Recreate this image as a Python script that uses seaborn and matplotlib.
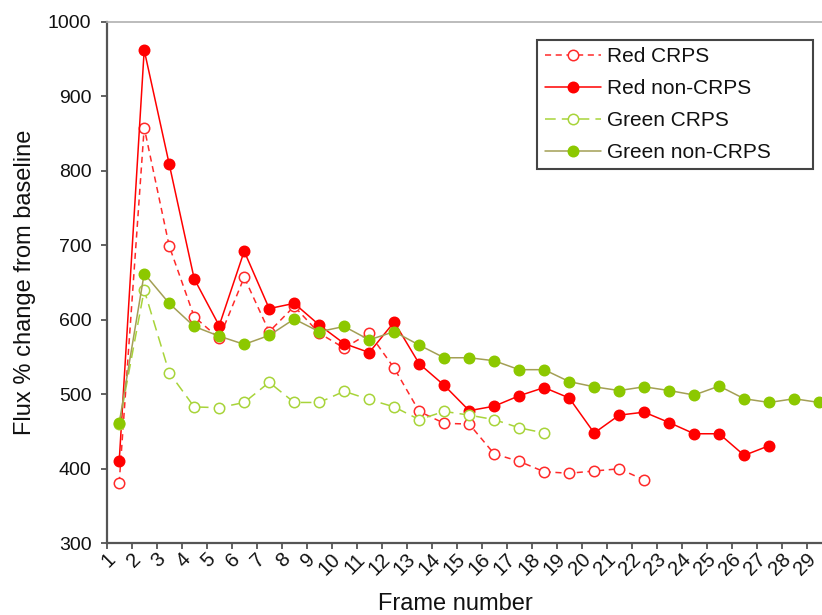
import matplotlib.pyplot as plt
import pandas as pd
import seaborn as sns

# values, one per frame starting at frame 1
red_crps = [381, 858, 699, 604, 575, 657, 584, 618, 582, 562, 582, 535, 477,
            461, 460, 420, 410, 396, 394, 397, 400, 385]
red_non_crps = [410, 962, 809, 655, 592, 692, 615, 622, 593, 568, 556, 597, 541,
                512, 478, 484, 498, 509, 495, 448, 472, 476, 462, 447, 447, 418, 431]
green_crps = [460, 640, 529, 483, 482, 489, 516, 489, 489, 504, 493, 483, 466,
              477, 472, 466, 455, 448]
green_non_crps = [461, 662, 622, 591, 578, 567, 579, 601, 584, 591, 573, 584, 566,
                  549, 549, 545, 533, 533, 517, 510, 505, 510, 505, 499, 511, 494,
                  489, 494, 489]
frame_labels = [str(i) for i in range(1, 30)]
y_ticks = [300, 400, 500, 600, 700, 800, 900, 1000]


def make_frame(values):
    return pd.DataFrame({"frame": range(1, len(values) + 1), "flux": values})


def main():
    sns.set_theme(style="ticks")
    plt.rcParams["font.family"] = ["Liberation Sans", "DejaVu Sans"]

    fig = plt.figure(figsize=(8.22, 6.15), dpi=100)
    # axes run off the right edge, like the cropped original
    ax = fig.add_axes([0.1298, 0.1166, 0.9124, 0.8481])

    series = [
        ("Red CRPS", red_crps, "#ff2a2a", (0, (4, 3)), "white", "#ff2a2a"),
        ("Red non-CRPS", red_non_crps, "#ff0000", "-", "#ff0000", "#ff0000"),
        ("Green CRPS", green_crps, "#a8d43a", (0, (7, 4)), "white", "#a8d43a"),
        ("Green non-CRPS", green_non_crps, "#a39f55", "-", "#8cc800", "#8cc800"),
    ]
    for name, values, line_color, ls, face, edge in series:
        sns.lineplot(data=make_frame(values), x="frame", y="flux", ax=ax,
                     label=name, color=line_color, linestyle=ls, linewidth=1.1,
                     marker="o", markersize=7.5, markerfacecolor=face,
                     markeredgecolor=edge, markeredgewidth=1.1)

    ax.set_xlim(0.5, 30.5)
    ax.set_ylim(300, 1000)
    ax.set_yticks(y_ticks)
    ax.set_xticks(range(1, len(frame_labels) + 1))
    ax.set_xticklabels(frame_labels, rotation=45, ha="right", va="bottom",
                       rotation_mode="anchor")
    ax.set_xticks([i + 0.5 for i in range(0, 30)], minor=True)

    ax.tick_params(axis="x", which="major", length=0, pad=14, labelsize=14.5,
                   labelcolor="#111")
    ax.tick_params(axis="x", which="minor", length=4, width=1.3,
                   color="#555", direction="out")
    ax.tick_params(axis="y", length=4.5, width=1.3, color="#555",
                   direction="out", pad=6.5, labelsize=14, labelcolor="#111")

    for side in ["left", "bottom"]:
        ax.spines[side].set_color("#555")
        ax.spines[side].set_linewidth(1.6)
    ax.spines["top"].set_color("#b0b0b0")
    ax.spines["top"].set_linewidth(1.2)
    ax.spines["right"].set_visible(False)

    ax.set_xlabel("Frame number", fontsize=17, color="#111")
    ax.set_ylabel("Flux % change from baseline", fontsize=17, color="#111")
    ax.xaxis.set_label_coords(0.465, -0.095)
    ax.yaxis.set_label_coords(-0.094, 0.5)

    handles, labels = ax.get_legend_handles_labels()
    legend = ax.legend(handles, labels, loc="upper left",
                       bbox_to_anchor=(0.6537, 0.5, 0.3358, 0.435),
                       bbox_transform=fig.transFigure, mode="expand",
                       borderaxespad=0, fancybox=False, framealpha=1,
                       edgecolor="#444", handlelength=2.7, handletextpad=0.3,
                       labelspacing=0.62, borderpad=0.35, fontsize=15)
    legend.get_frame().set_linewidth(1.5)
    for text in legend.get_texts():
        text.set_color("#111")

    fig.savefig("out.png", dpi=100)


if __name__ == "__main__":
    main()
